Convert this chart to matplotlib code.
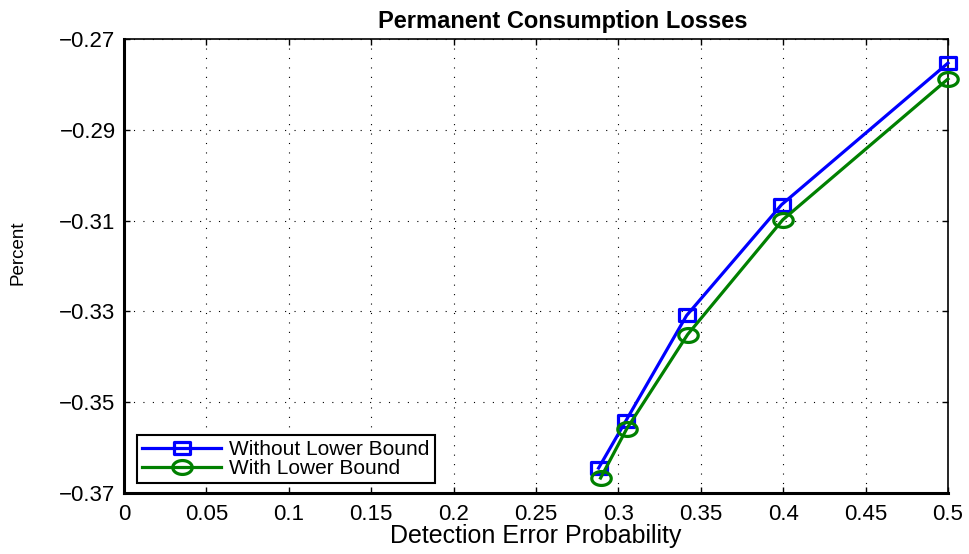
import numpy as np
import matplotlib
matplotlib.use('Agg')
import matplotlib.pyplot as plt
from matplotlib.path import Path

# Values
detection_error = [0.288, 0.3044, 0.3414, 0.399, 0.5]
losses_without_bound = [-0.3645, -0.3542, -0.3309, -0.3065, -0.2753]
detection_error_lb = [0.2892, 0.305, 0.342, 0.3998, 0.5]
losses_with_bound = [-0.3667, -0.3559, -0.3351, -0.3098, -0.2788]

xticks = [0, 0.05, 0.1, 0.15, 0.2, 0.25, 0.3, 0.35, 0.4, 0.45, 0.5]
xticklabels = ['0', '0.05', '0.1', '0.15', '0.2', '0.25', '0.3', '0.35', '0.4', '0.45', '0.5']
yticks = [-0.37, -0.35, -0.33, -0.31, -0.29, -0.27]
yticklabels = ['\u22120.37', '\u22120.35', '\u22120.33', '\u22120.31', '\u22120.29', '\u22120.27']

plt.rcParams['font.family'] = ['Liberation Sans', 'DejaVu Sans']

# The reference picture is stretched sideways, so markers are a bit wider than tall
stretch = 1.4
t = np.linspace(0, 2 * np.pi, 60)
ellipse = Path(np.column_stack([stretch * np.cos(t), np.sin(t)]), closed=True)
box = Path([(-stretch, -1), (stretch, -1), (stretch, 1), (-stretch, 1), (-stretch, -1)], closed=True)

fig = plt.figure(figsize=(9.7, 5.54), dpi=100)
ax = fig.add_axes([0.1278, 0.1101, 0.8495, 0.8195])

ax.plot(detection_error, losses_without_bound, color='#0000ff', linewidth=2.3,
        marker=box, markersize=11.5, markerfacecolor='none', markeredgewidth=2.3,
        label='Without Lower Bound', clip_on=False, zorder=3)
ax.plot(detection_error_lb, losses_with_bound, color='#008000', linewidth=2.3,
        marker=ellipse, markersize=14, markerfacecolor='none', markeredgewidth=2.3,
        label='With Lower Bound', clip_on=False, zorder=3)

ax.set_xlim(0, 0.5)
ax.set_ylim(-0.37, -0.27)
ax.set_xticks(xticks)
ax.set_xticklabels(xticklabels)
ax.set_yticks(yticks)
ax.set_yticklabels(yticklabels)
ax.tick_params(direction='in', labelsize=16, length=4, width=1, top=True, right=True)
ax.tick_params(axis='y', pad=6)
ax.tick_params(axis='x', pad=8)
ax.grid(True, linestyle=(0, (1, 7.5)), color='black', linewidth=0.8)

for side in ['left', 'bottom']:
    ax.spines[side].set_linewidth(2.2)
for side in ['top', 'right']:
    ax.spines[side].set_linewidth(1.2)

ax.set_title('Permanent Consumption Losses', fontsize=17, fontweight='bold', pad=8, x=0.533)
ax.set_xlabel('Detection Error Probability', fontsize=18, labelpad=-1)
ax.set_ylabel('Percent', fontsize=13.5)
ax.yaxis.set_label_coords(-0.118, 0.53)

leg = ax.legend(loc='lower left', bbox_to_anchor=(0.0158, 0.022), fontsize=15,
                fancybox=False, framealpha=1, edgecolor='black', borderpad=0.25,
                handlelength=3.8, labelspacing=0.0, handletextpad=0.38, borderaxespad=0)
leg.get_frame().set_linewidth(1.5)

fig.savefig('out.png', dpi=100)
